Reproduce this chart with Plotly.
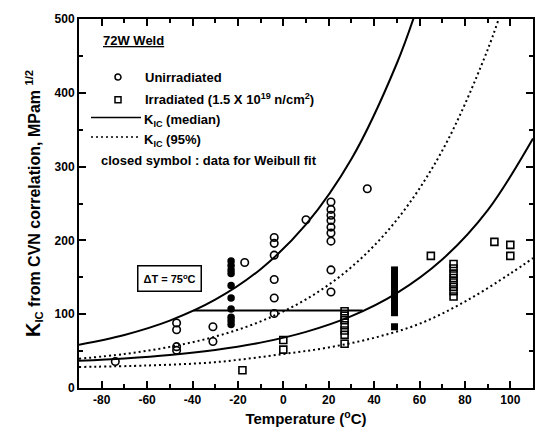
import plotly.graph_objects as go

# ---------------- data ----------------
# Unirradiated, open circles
unirr_T = [-74, -47, -47, -47, -47, -31, -31, -17, -4, -4, -4, -4, -4, -4, 10,
           21, 21, 21, 21, 21, 21, 21, 21, 21, 37]
unirr_K = [36, 88, 79, 56, 51, 83, 63, 170, 204, 196, 180, 147, 122, 101, 228,
           252, 242, 234, 227, 218, 210, 199, 160, 130, 270]
# Unirradiated, closed circles (Weibull fit data)
unirr_fit_T = [-23, -23, -23, -23, -23, -23, -23, -23, -23, -23]
unirr_fit_K = [172, 166, 160, 155, 139, 122, 107, 96, 91, 86]
# Irradiated, open squares
irr_T = [-18, 0, 0, 27, 27, 27, 27, 27, 27, 27, 65, 75, 75, 75, 75, 75, 75, 75, 75,
         93, 100, 100]
irr_K = [24, 65, 52, 104, 98, 92, 85, 78, 72, 60, 179, 168, 162, 155, 149, 143, 137,
         131, 124, 198, 194, 179]
# Irradiated, closed squares (Weibull fit data)
irr_fit_T = [49] * 14
irr_fit_K = [160, 155, 150, 145, 140, 135, 130, 125, 120, 115, 110, 106, 102, 83]

# K_IC curves
med_unirr_T = [-90, -70, -50, -30, -10, 10, 30, 50, 60]
med_unirr_K = [58.7, 71.9, 91.3, 119.6, 161.0, 221.6, 310.2, 439.7, 525]
med_irr_T = [-90, -70, -50, -30, -10, 10, 30, 50, 70, 90, 110]
med_irr_K = [36.9, 40.1, 44.7, 51.6, 61.5, 76.1, 97.4, 128.6, 174.1, 240.7, 338.1]
p95_unirr_T = [-90, -70, -50, -30, -10, 10, 30, 50, 70, 90, 100]
p95_unirr_K = [39.6, 46.1, 55.7, 69.7, 90.2, 120.1, 163.8, 227.9, 321.5, 458.3, 549]
p95_irr_T = [-90, -60, -30, 0, 20, 40, 60, 80, 100, 110]
p95_irr_K = [28.5, 30.5, 35, 46, 55, 68, 87, 117, 155, 176]
# Delta-T shift line
shift_T = [-39.5, 35]
shift_K = [105, 105]

x_tick_vals = [-80, -60, -40, -20, 0, 20, 40, 60, 80, 100]
x_tick_labels = ["-80", "-60", "-40", "-20", "0", "20", "40", "60", "80", "100"]
y_tick_vals = [0, 100, 200, 300, 400, 500]
y_tick_labels = ["0", "100", "200", "300", "400", "500"]

# ---------------- figure ----------------
FONT = "Liberation Sans, Arial, sans-serif"
fig = go.Figure()

line_solid = dict(color="black", width=2, shape="spline")
line_dot = dict(color="black", width=2, dash="2px,3px", shape="spline")

fig.add_trace(go.Scatter(x=med_unirr_T, y=med_unirr_K, mode="lines", line=line_solid, showlegend=False))
fig.add_trace(go.Scatter(x=med_irr_T, y=med_irr_K, mode="lines", line=line_solid, showlegend=False))
fig.add_trace(go.Scatter(x=p95_unirr_T, y=p95_unirr_K, mode="lines", line=line_dot, showlegend=False))
fig.add_trace(go.Scatter(x=p95_irr_T, y=p95_irr_K, mode="lines", line=line_dot, showlegend=False))
fig.add_trace(go.Scatter(x=shift_T, y=shift_K, mode="lines", line=dict(color="black", width=2), showlegend=False))

fig.add_trace(go.Scatter(x=unirr_T, y=unirr_K, mode="markers", showlegend=False,
                         marker=dict(symbol="circle-open", size=7.5, color="black", line=dict(width=1.6))))
fig.add_trace(go.Scatter(x=unirr_fit_T, y=unirr_fit_K, mode="markers", showlegend=False,
                         marker=dict(symbol="circle", size=7.5, color="black")))
fig.add_trace(go.Scatter(x=irr_T, y=irr_K, mode="markers", showlegend=False,
                         marker=dict(symbol="square-open", size=7, color="black", line=dict(width=1.6))))
fig.add_trace(go.Scatter(x=irr_fit_T, y=irr_fit_K, mode="markers", showlegend=False,
                         marker=dict(symbol="square", size=7, color="black")))

# plot-area geometry (pixels) for the hand-made key
L, R, T, B = 79, 533, 13, 388
def px(x):
    return (x - L) / (R - L)
def py(y):
    return (B - y) / (B - T)

txt = dict(family=FONT, size=13, color="black", weight="bold")
ann = []
ann.append(dict(text="<u>72W Weld</u>", x=px(101), y=py(35)))
ann.append(dict(text="Unirradiated", x=px(143), y=py(72)))
ann.append(dict(text="Irradiated (1.5 X 10<sup>19</sup> n/cm<sup>2</sup>)", x=px(143), y=py(94)))
ann.append(dict(text="K<sub>IC</sub> (median)", x=px(142), y=py(116)))
ann.append(dict(text="K<sub>IC</sub> (95%)", x=px(142), y=py(136)))
ann.append(dict(text="closed symbol : data for Weibull fit", x=px(99), y=py(157)))
annotations = [dict(a, xref="paper", yref="paper", xanchor="left", yanchor="middle",
                    showarrow=False, font=txt) for a in ann]
annotations.append(dict(text="\u0394T = 75<sup>o</sup>C", x=-50, y=149, xref="x", yref="y",
                        showarrow=False, font=dict(family=FONT, size=11, color="black", weight="bold"),
                        bordercolor="black", borderwidth=1.5, borderpad=5, bgcolor="white"))

shapes = [
    dict(type="line", xref="paper", yref="paper", x0=px(91), x1=px(141), y0=py(113), y1=py(113),
         line=dict(color="black", width=1.5)),
    dict(type="line", xref="paper", yref="paper", x0=px(91), x1=px(141), y0=py(133), y1=py(133),
         line=dict(color="black", width=1.5, dash="2px,3px")),
    dict(type="circle", xref="paper", yref="paper", xsizemode="pixel", ysizemode="pixel",
         xanchor=px(118), yanchor=py(72), x0=-3, x1=3, y0=-3, y1=3, line=dict(color="black", width=1.5)),
    dict(type="rect", xref="paper", yref="paper", xsizemode="pixel", ysizemode="pixel",
         xanchor=px(118), yanchor=py(95), x0=-3, x1=3, y0=-3, y1=3, line=dict(color="black", width=1.5)),
]

axis_common = dict(showline=True, linecolor="black", linewidth=2, mirror="ticks",
                   ticks="inside", ticklen=7, tickwidth=1.5, tickcolor="black",
                   showgrid=False, zeroline=False,
                   tickfont=dict(family=FONT, size=12, color="black", weight="bold"))

fig.update_layout(
    width=549, height=440,
    margin=dict(l=L, r=549 - R, t=T, b=440 - B),
    paper_bgcolor="white", plot_bgcolor="white",
    showlegend=False,
    font=dict(family=FONT, color="black"),
    xaxis=dict(axis_common, range=[-90, 110], tickmode="array", tickvals=x_tick_vals,
               ticktext=x_tick_labels,
               minor=dict(tickmode="array", tickvals=[v + 10 for v in [-100] + x_tick_vals],
                          ticks="inside", ticklen=4, tickwidth=1.5, tickcolor="black"),
               title=dict(text="Temperature (<sup>o</sup>C)", standoff=7,
                          font=dict(family=FONT, size=15, color="black", weight="bold"))),
    yaxis=dict(axis_common, range=[0, 500], tickmode="array", tickvals=y_tick_vals,
               ticktext=y_tick_labels,
               minor=dict(tickmode="array", tickvals=[v + 50 for v in y_tick_vals[:-1]],
                          ticks="inside", ticklen=4, tickwidth=1.5, tickcolor="black"),
               title=dict(text="<span style='font-size:20px'>K</span><sub>IC</sub> from CVN correlation, MPam <sup>1/2</sup>",
                          standoff=10,
                          font=dict(family=FONT, size=16, color="black", weight="bold"))),
    annotations=annotations,
    shapes=shapes,
)

fig.write_html("out.html")
